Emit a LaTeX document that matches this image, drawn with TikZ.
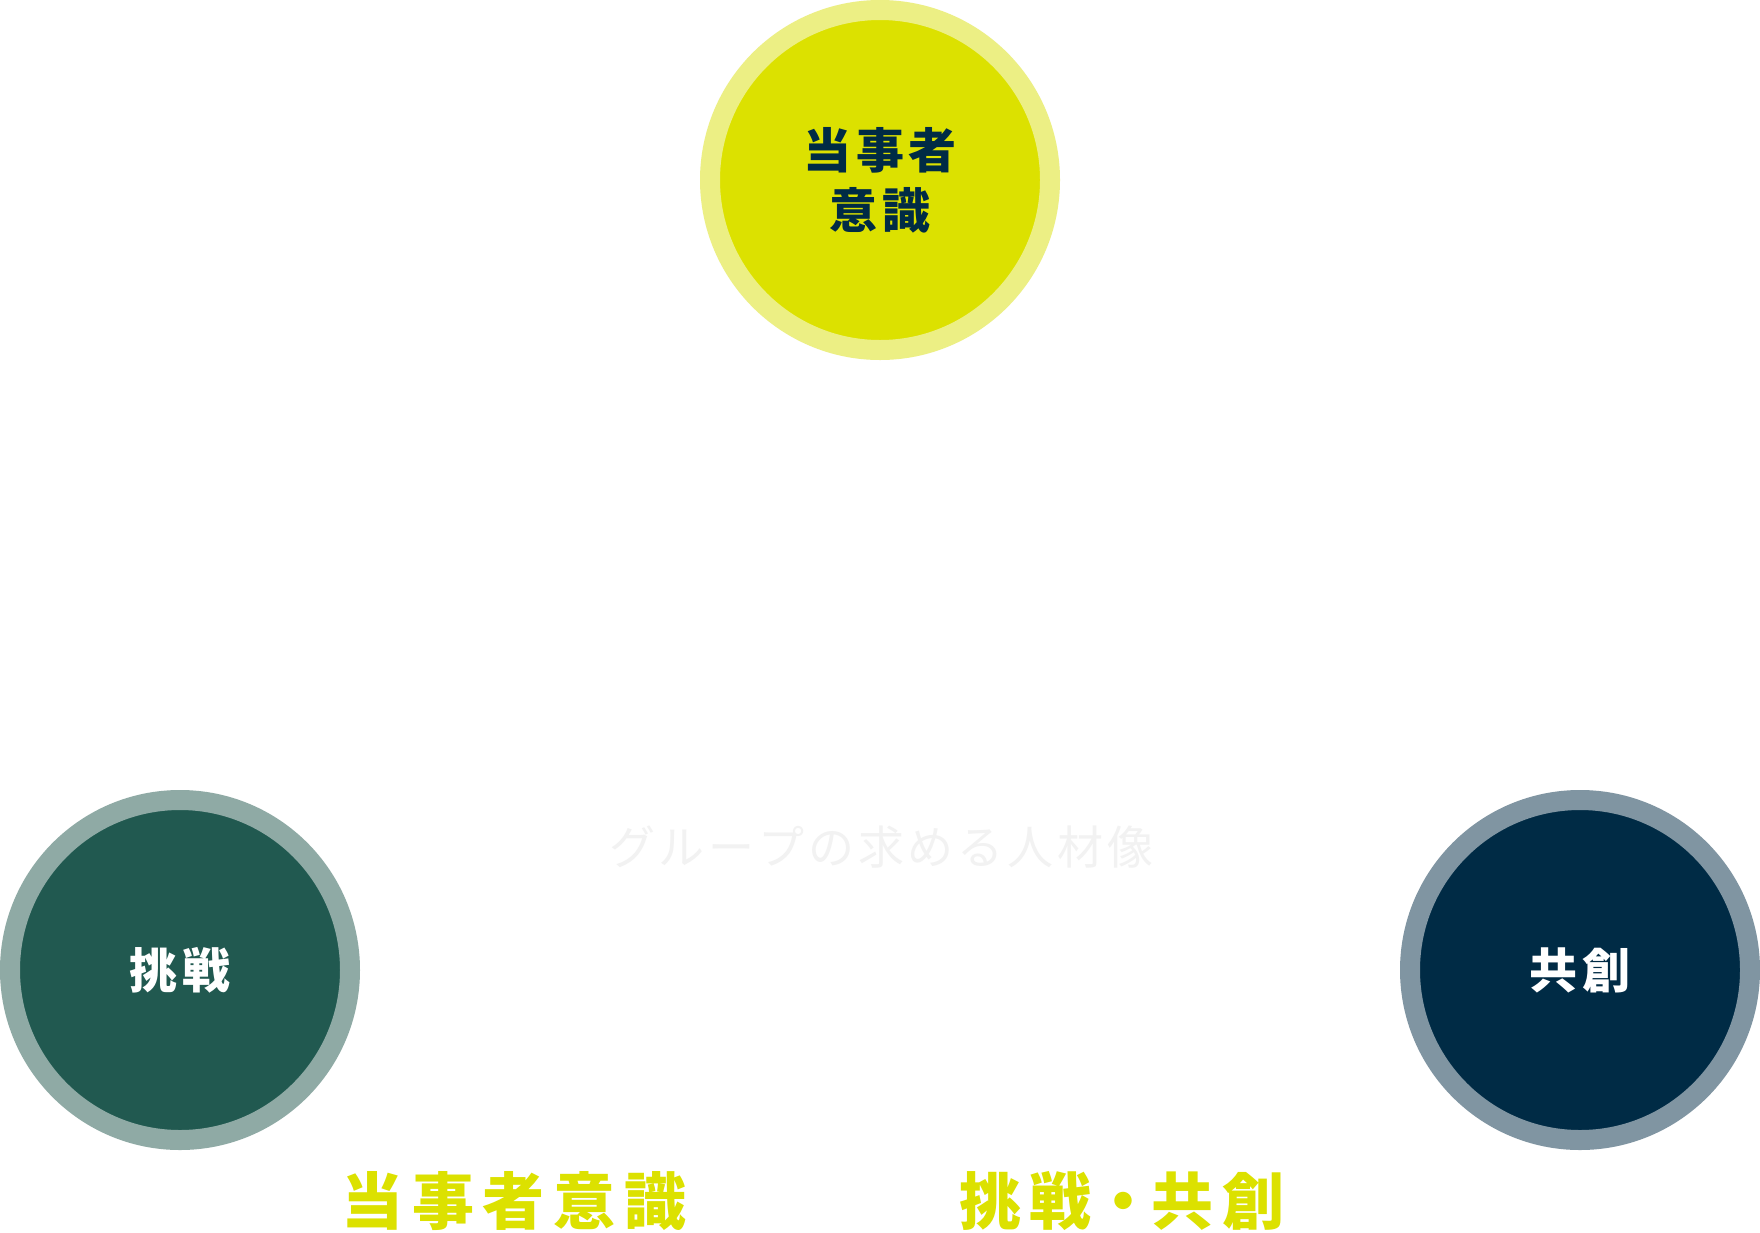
\documentclass[tikz,border=0pt]{standalone}
\usepackage{fontspec}
\newfontfamily\jp{Noto Sans CJK JP}
\newcommand\pc[2]{\makebox[#1pt][c]{#2}}
\definecolor{ylw}{HTML}{DCE100}
\definecolor{ylwring}{HTML}{ECEF84}
\definecolor{grn}{HTML}{215950}
\definecolor{grnring}{HTML}{8FAAA5}
\definecolor{nvy}{HTML}{002B45}
\definecolor{nvyring}{HTML}{8095A2}
\definecolor{faint}{HTML}{F2F2F2}
\tikzset{
  bubble/.style={circle, inner sep=0pt, minimum size=340pt, line width=20pt},
  bubbletext/.style={inner sep=0pt, anchor=base, font=\jp\bfseries\fontsize{48}{56}\selectfont},
  bottomlabel/.style={inner sep=0pt, anchor=base west, text=ylw, font=\jp\bfseries\fontsize{62}{70}\selectfont},
  centretext/.style={inner sep=0pt, anchor=base west, text=faint, font=\jp\fontsize{46}{52}\selectfont}
}
\begin{document}
\begin{tikzpicture}[x=1pt,y=-1pt]
\useasboundingbox[fill=white] (0,0) rectangle (1760,1232);
\node[bubble, draw=ylwring, fill=ylw] (top) at (880,180) {};
\node[bubble, draw=grnring, fill=grn] (left) at (180,970) {};
\node[bubble, draw=nvyring, fill=nvy] (right) at (1580,970) {};
\node[bubbletext, text=nvy] (topA) at (880,168.7) {\pc{53}{当}\pc{53}{事}\pc{53}{者}};
\node[bubbletext, text=nvy] (topB) at (880,228.2) {\pc{54}{意}\pc{54}{識}};
\node[bubbletext, text=white] (leftT) at (180,988.2) {\pc{54}{挑}\pc{54}{戦}};
\node[bubbletext, text=white] (rightT) at (1580,988.2) {\pc{53}{共}\pc{53}{創}};
\node[centretext] (mid) at (607.1,864) {\pc{49.8}{グ}\pc{49.8}{ル}\pc{49.8}{ー}\pc{49.8}{プ}\pc{49.8}{の}\pc{49.8}{求}\pc{49.8}{め}\pc{49.8}{る}\pc{49.8}{人}\pc{49.8}{材}\pc{49.8}{像}};
\node[bottomlabel] (labA) at (337.2,1224.5) {\pc{70.6}{当}\pc{70.6}{事}\pc{70.6}{者}\pc{70.6}{意}\pc{70.6}{識}};
\node[bottomlabel] (labB) at (955,1224.5) {\pc{70}{挑}\pc{70}{戦}\pc{56}{・}\pc{62}{共}\pc{80}{創}};
\end{tikzpicture}
\end{document}
